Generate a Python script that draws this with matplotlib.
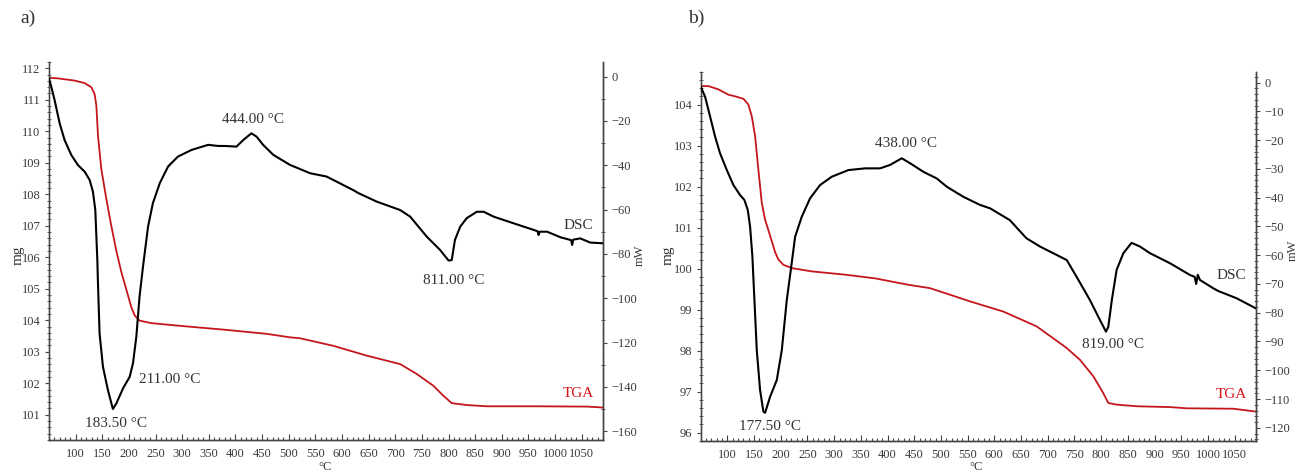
import matplotlib
matplotlib.use("Agg")
import matplotlib.pyplot as plt
from matplotlib.ticker import MultipleLocator

plt.rcParams['font.family'] = ['Liberation Serif', 'DejaVu Serif']

# ---------------- Panel a data ----------------
a_tga_T = [50, 66.7, 98, 117, 129.5, 135.7, 139, 142, 148.3, 157.7, 167, 176.5, 186, 195,
           204.7, 211, 220, 242, 292, 380, 458.5, 502, 521, 583.6, 646, 709, 740, 771.6,
           790, 806, 834, 872, 960, 1060, 1091]
a_tga_mg = [111.70, 111.68, 111.61, 111.53, 111.40, 111.18, 110.81, 109.86, 108.80, 107.85,
            107.00, 106.20, 105.52, 104.99, 104.41, 104.15, 103.99, 103.91, 103.83, 103.70,
            103.57, 103.46, 103.43, 103.19, 102.88, 102.61, 102.30, 101.92, 101.61, 101.37,
            101.31, 101.27, 101.27, 101.26, 101.23]

a_dsc_T = [50, 54.3, 60.5, 70, 79.3, 92, 104.3, 117, 126.3, 132.5, 137, 139, 140.8, 142, 145,
           151.3, 160.7, 170, 176.5, 189, 201.5, 207.7, 214, 220, 226.5, 229.7, 236, 245, 258,
           273.5, 292, 317.5, 348.7, 367.5, 380, 402, 414.7, 430, 439.7, 452, 471, 502, 540,
           571, 621, 631, 665, 709, 728, 759, 784, 800, 806, 812, 822, 834, 853, 866, 884.6,
           922, 960, 967, 969, 971, 985, 1010, 1030, 1032, 1034, 1047, 1066, 1088]
a_dsc_mw = [-1.0, -4.5, -10.5, -21.0, -28.6, -35.4, -39.9, -42.9, -46.6, -51.9, -60.2, -72.2,
            -82.8, -93.3, -115.9, -130.9, -141.5, -150.0, -147.5, -140.7, -135.5, -129.4,
            -117.4, -99.3, -85.8, -79.7, -67.7, -57.2, -48.1, -40.6, -36.1, -33.1, -30.8,
            -31.3, -31.3, -31.6, -28.6, -25.6, -27.1, -30.8, -35.3, -39.8, -43.6, -45.1,
            -51.2, -52.6, -56.4, -60.2, -63.2, -72.2, -78.2, -83.0, -82.8, -73.7, -67.7,
            -63.9, -61.0, -61.0, -63.2, -66.2, -69.2, -69.8, -71.5, -70.0, -70.0, -72.5,
            -73.8, -76.0, -73.6, -73.0, -74.9, -75.2]

# ---------------- Panel b data ----------------
b_tga_T = [50, 64.4, 83.1, 101.9, 114.4, 130, 139.3, 145.7, 151.9, 158, 164.4, 170.6, 180,
           189.3, 195.5, 204.9, 220.6, 258, 320.4, 376.6, 436, 479.6, 517, 554, 616.8, 679,
           735.6, 760.5, 785.4, 804, 813.4, 829, 866.6, 929, 960, 1047.7, 1090]
b_tga_mg = [104.45, 104.45, 104.37, 104.24, 104.20, 104.14, 104.00, 103.71, 103.23, 102.41,
            101.60, 101.19, 100.80, 100.40, 100.22, 100.09, 100.01, 99.93, 99.85, 99.76,
            99.61, 99.52, 99.36, 99.20, 98.95, 98.59, 98.06, 97.77, 97.37, 96.96, 96.72,
            96.68, 96.64, 96.62, 96.59, 96.58, 96.51]

b_dsc_T = [50, 58.2, 67.6, 77, 86.3, 98.9, 111.2, 123.8, 131.8, 138.2, 142.5, 146.8, 150.6,
           155, 161.2, 167.4, 170.6, 180, 192.5, 201.9, 211.2, 220.6, 226.8, 239.3, 254.9,
           273.6, 295.5, 326.6, 357.9, 386, 404.7, 426.6, 442, 467, 492, 511, 542, 573, 592,
           629, 660, 685.6, 723, 735.6, 754, 779, 794.7, 809, 813.4, 820, 829, 841.6, 857,
           872.8, 891.5, 929, 966.5, 975, 978, 981, 985, 1010, 1020, 1054, 1090]
b_dsc_mw = [-1.4, -4.9, -11.8, -18.8, -24.6, -30.4, -35.6, -39.1, -40.8, -44.3, -50.1, -60.5,
            -75.6, -93.0, -106.9, -114.4, -114.8, -109.2, -103.4, -93.0, -75.6, -62.5, -53.6,
            -46.6, -40.2, -35.6, -32.7, -30.4, -29.8, -29.8, -28.6, -26.3, -28.0, -31.0,
            -33.3, -36.2, -39.7, -42.5, -43.7, -47.8, -54.1, -57.0, -60.5, -61.7, -67.5,
            -75.6, -81.4, -86.6, -84.9, -75.6, -65.1, -59.3, -55.7, -57.0, -59.3, -62.8,
            -66.9, -67.5, -70.0, -66.8, -68.6, -71.5, -72.5, -75.0, -78.5]

x_ticks = list(range(100, 1051, 50))

panels = [
    dict(letter="a)", rect=[0.0374, 0.0737, 0.4233, 0.7958],
         tga_T=a_tga_T, tga=a_tga_mg, dsc_T=a_dsc_T, dsc=a_dsc_mw,
         ylim=(100.2, 112.2), yticks=list(range(101, 113)), yminor=0.2,
         y2lim=(-164, 6.6), y2ticks=list(range(-160, 1, 20)), y2minor=10,
         notes=[("444.00 °C", 433, -19.2), ("211.00 °C", 276, -136.6),
                ("183.50 °C", 176, -156.5), ("811.00 °C", 809, -92.1)],
         dsc_lab=(1044, -67), tga_lab=(1044, -143),
         letter_xy=(20, 18), mg_xy=(18, 255), mw_xy=(640, 255), c_xy=(325, 467)),
    dict(letter="b)", rect=[0.5353, 0.0722, 0.4242, 0.7768],
         tga_T=b_tga_T, tga=b_tga_mg, dsc_T=b_dsc_T, dsc=b_dsc_mw,
         ylim=(95.8, 104.8), yticks=list(range(96, 105)), yminor=0.2,
         y2lim=(-124.5, 3.8), y2ticks=list(range(-120, 1, 10)), y2minor=2,
         notes=[("438.00 °C", 435, -21.1), ("177.50 °C", 180, -119.4),
                ("819.00 °C", 822, -91.2)],
         dsc_lab=(1043, -67.2), tga_lab=(1043, -108.6),
         letter_xy=(688, 18), mg_xy=(668, 255), mw_xy=(1293, 250), c_xy=(976, 467)),
]

W, H = 1309, 475
fig = plt.figure(figsize=(W / 100, H / 100), dpi=100)

tick_col = '#3a3a3a'
for p in panels:
    ax = fig.add_axes(p['rect'])
    ax2 = ax.twinx()
    ax.plot(p['tga_T'], p['tga'], color='#c4161c', lw=1.3, zorder=2,
            solid_joinstyle='round')
    ax2.plot(p['dsc_T'], p['dsc'], color='black', lw=1.5, zorder=3,
             solid_joinstyle='round')
    ax.set_xlim(50, 1090)
    ax.set_ylim(*p['ylim'])
    ax2.set_ylim(*p['y2lim'])
    ax.set_xticks(x_ticks)
    ax.set_yticks(p['yticks'])
    ax2.set_yticks(p['y2ticks'])
    ax.xaxis.set_minor_locator(MultipleLocator(10))
    ax.yaxis.set_minor_locator(MultipleLocator(p['yminor']))
    ax2.yaxis.set_minor_locator(MultipleLocator(p['y2minor']))
    for a in (ax, ax2):
        a.spines['top'].set_visible(False)
        for s in a.spines.values():
            s.set_color('#444444')
            s.set_linewidth(1.0)
    ax.spines['left'].set_color('#8a8a8a')
    ax.tick_params(axis='x', which='major', direction='in', length=4, width=0.8,
                   colors='#444444', labelcolor=tick_col, labelsize=9, pad=6)
    ax.tick_params(axis='x', which='minor', direction='in', length=2.5, width=0.8,
                   colors='#444444')
    ax.tick_params(axis='y', which='major', direction='out', length=3, width=0.8,
                   colors='#444444', labelcolor=tick_col, labelsize=9, pad=3)
    ax.tick_params(axis='y', which='minor', direction='inout', length=2.5, width=0.7,
                   colors='#555555')
    ax2.tick_params(axis='y', which='major', direction='out', length=3, width=0.8,
                    colors='#444444', labelcolor=tick_col, labelsize=9, pad=3)
    ax2.tick_params(axis='y', which='minor', direction='inout', length=2.5, width=0.7,
                    colors='#555555')
    for txt, x, y in p['notes']:
        ax2.text(x, y, txt, ha='center', va='center', fontsize=11, color='#333333')
    ax2.text(*p['dsc_lab'], "DSC", ha='center', va='center', fontsize=11, color='#333333')
    ax2.text(*p['tga_lab'], "TGA", ha='center', va='center', fontsize=11, color='#d7141a')
    fig.text(p['letter_xy'][0] / W, 1 - p['letter_xy'][1] / H, p['letter'],
             ha='left', va='center', fontsize=14, color='#333333')
    fig.text(p['mg_xy'][0] / W, 1 - p['mg_xy'][1] / H, "mg", rotation=90,
             ha='center', va='center', fontsize=11, color='#333333')
    fig.text(p['mw_xy'][0] / W, 1 - p['mw_xy'][1] / H, "mW", rotation=90,
             ha='center', va='center', fontsize=9, color='#333333')
    fig.text(p['c_xy'][0] / W, 1 - p['c_xy'][1] / H, "°C",
             ha='center', va='center', fontsize=9, color='#333333')

fig.savefig("out.png", dpi=100)
